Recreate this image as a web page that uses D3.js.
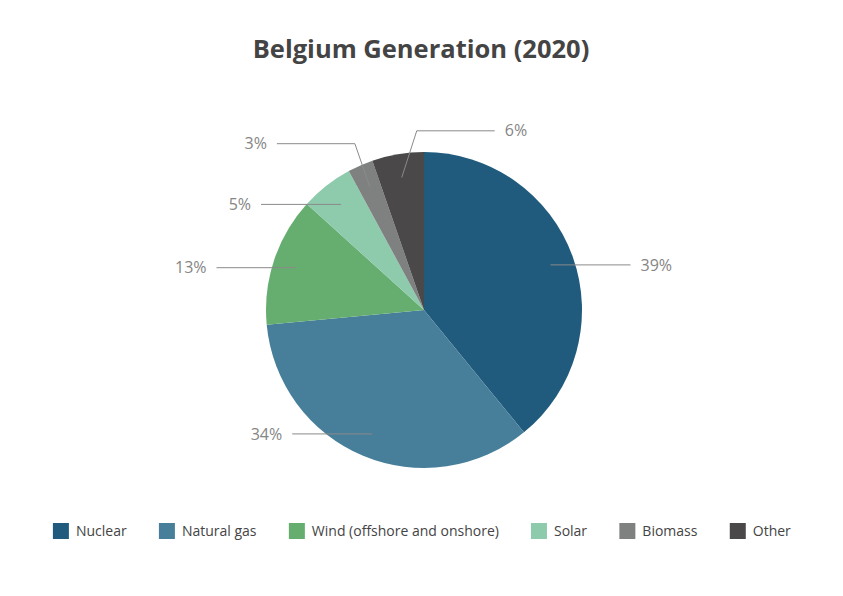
<!DOCTYPE html>
<html lang="en">
<head>
<meta charset="utf-8">
<title>Belgium Generation (2020)</title>
<script src="https://cdn.jsdelivr.net/npm/d3@7"></script>
<style>
  body { margin: 0; background: #fff; }
  text { font-family: "Open Sans", "Noto Sans", sans-serif; }
</style>
</head>
<body>
<script>
// data
var sources = ["Nuclear", "Natural gas", "Wind (offshore and onshore)", "Solar", "Biomass", "Other"];
var shares = [39.1, 34.4, 13.2, 5.4, 2.6, 5.3];
var shareLabels = ["39%", "34%", "13%", "5%", "3%", "6%"];
var colors = ["#205a7d", "#477f9a", "#66ae6f", "#8ecbad", "#7f8180", "#4a4849"];

var w = 843, h = 596;
var cx = 424, cy = 310, R = 158;

var svg = d3.select("body").append("svg")
    .attr("width", w)
    .attr("height", h);

// title
svg.append("text")
    .attr("x", 421)
    .attr("y", 58)
    .attr("text-anchor", "middle")
    .attr("font-size", "25.5px")
    .attr("font-weight", "bold")
    .attr("fill", "#444")
    .text("Belgium Generation (2020)");

var data = sources.map(function(s, i) {
    return { name: s, value: shares[i], label: shareLabels[i], color: colors[i] };
});

var pie = d3.pie().sort(null).value(function(d) { return d.value; });
var arc = d3.arc().innerRadius(0).outerRadius(R);
var arcs = pie(data);

var g = svg.append("g").attr("transform", "translate(" + cx + "," + cy + ")");

g.selectAll("path")
    .data(arcs)
    .enter()
    .append("path")
    .attr("d", arc)
    .attr("fill", function(d) { return d.data.color; });

// label layout: anchor inside the slice, lifted elbow for the thin slices near the top
var labels = arcs.map(function(d) {
    var a = (d.startAngle + d.endAngle) / 2;
    var ax = Math.sin(a) * R * 0.85, ay = -Math.cos(a) * R * 0.85;
    var lifted = Math.cos(a) > 0.9;
    var side, pts;
    if (lifted) {
        side = Math.sin(a) > -0.2 ? 1 : -1;
        var ly = -Math.cos(a) * R * 1.15;
        var ex = ax + side * 15;
        pts = [[ax, ay], [ex, ly], [ex + side * 78, ly]];
    } else {
        side = Math.sin(a) >= 0 ? 1 : -1;
        pts = [[ax, ay], [ax + side * 80, ay]];
    }
    return { d: d, side: side, pts: pts };
});

g.selectAll("polyline")
    .data(labels)
    .enter()
    .append("polyline")
    .attr("points", function(l) { return l.pts.map(function(p) { return p.join(","); }).join(" "); })
    .attr("fill", "none")
    .attr("stroke", "#8a8a8a")
    .attr("stroke-width", 1);

g.selectAll("text.lbl")
    .data(labels)
    .enter()
    .append("text")
    .attr("class", "lbl")
    .attr("x", function(l) { return l.pts[l.pts.length - 1][0] + l.side * 10; })
    .attr("y", function(l) { return l.pts[l.pts.length - 1][1]; })
    .attr("dy", "0.35em")
    .attr("text-anchor", function(l) { return l.side > 0 ? "start" : "end"; })
    .attr("font-size", "16px")
    .attr("fill", "#858585")
    .text(function(l) { return l.d.data.label; });

// legend
var legend = svg.append("g");
var items = legend.selectAll("g")
    .data(data)
    .enter()
    .append("g");

items.append("rect")
    .attr("width", 16)
    .attr("height", 16)
    .attr("y", -8)
    .attr("fill", function(d) { return d.color; });

items.append("text")
    .attr("x", 23)
    .attr("dy", "0.35em")
    .attr("font-size", "14px")
    .attr("fill", "#444")
    .text(function(d) { return d.name; });

var gap = 32, xpos = 0, offsets = [];
items.each(function() {
    offsets.push(xpos);
    xpos += this.getBBox().width + gap;
});
var total = xpos - gap;
var startX = 422 - total / 2;
items.attr("transform", function(d, i) { return "translate(" + (startX + offsets[i]) + ",531)"; });
</script>
</body>
</html>
